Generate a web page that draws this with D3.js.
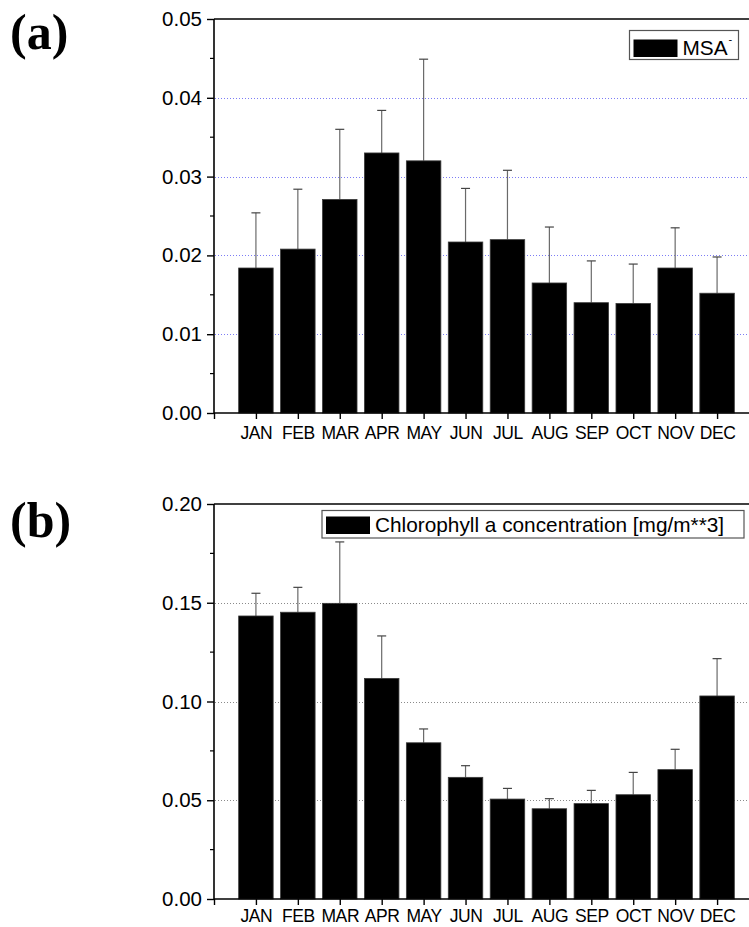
<!DOCTYPE html>
<html>
<head>
<meta charset="utf-8">
<script src="https://cdn.jsdelivr.net/npm/d3@7/dist/d3.min.js"></script>
<style>
  html, body { margin: 0; padding: 0; background: #fff; }
  svg { display: block; }
  text { font-family: "Liberation Sans", Arial, sans-serif; fill: #000; }
</style>
</head>
<body>
<svg id="chart" width="749" height="927"></svg>
<script>
// Monthly climatology: MSA⁻ concentration and chlorophyll a concentration
const months = ["JAN","FEB","MAR","APR","MAY","JUN","JUL","AUG","SEP","OCT","NOV","DEC"];

const msaMean = [0.0184, 0.0208, 0.0271, 0.0330, 0.0320, 0.0217, 0.0220, 0.0165, 0.0140, 0.0139, 0.0184, 0.0152];
const msaSd   = [0.0070, 0.0076, 0.0089, 0.0054, 0.0129, 0.0068, 0.0088, 0.0071, 0.0053, 0.0050, 0.0051, 0.0046];

const chlMean = [0.1433, 0.1452, 0.1497, 0.1117, 0.0791, 0.0616, 0.0506, 0.0457, 0.0483, 0.0528, 0.0655, 0.1028];
const chlSd   = [0.0115, 0.0126, 0.0311, 0.0215, 0.0070, 0.0059, 0.0054, 0.0051, 0.0067, 0.0113, 0.0103, 0.0189];

const msaTicks = [0.00, 0.01, 0.02, 0.03, 0.04, 0.05];
const chlTicks = [0.00, 0.05, 0.10, 0.15, 0.20];

const svg = d3.select("#chart");

function drawPanel(opts) {
  const g = svg.append("g");
  const W = 749;
  const x = d3.scaleLinear().domain([0, 13]).range([214, 759]);
  const y = d3.scaleLinear().domain([0, opts.yMax]).range([opts.y0, opts.y1]);
  const barW = 34.5;

  // panel tag
  g.append("text")
    .attr("x", 10).attr("y", opts.tagY)
    .style("font-family", "'Liberation Serif', 'Times New Roman', serif")
    .style("font-weight", "bold").style("font-size", "50px")
    .text(opts.tag);

  // dotted grid lines
  g.selectAll("line.grid").data(opts.grid).enter().append("line")
    .attr("x1", x(0) + 1).attr("x2", W)
    .attr("y1", d => Math.round(y(d)) + 0.5).attr("y2", d => Math.round(y(d)) + 0.5)
    .attr("stroke", opts.gridColor).attr("stroke-width", 1)
    .attr("stroke-dasharray", "1,2");

  const idx = d3.range(opts.mean.length);

  // error bars (upper half only)
  const eb = g.selectAll("g.err").data(idx).enter().append("g");
  eb.append("line")
    .attr("x1", i => x(i + 1)).attr("x2", i => x(i + 1))
    .attr("y1", i => y(opts.mean[i])).attr("y2", i => y(opts.mean[i] + opts.sd[i]))
    .attr("stroke", "#6a6a6a").attr("stroke-width", 1.2);
  eb.append("line")
    .attr("x1", i => x(i + 1) - 4.5).attr("x2", i => x(i + 1) + 4.5)
    .attr("y1", i => y(opts.mean[i] + opts.sd[i])).attr("y2", i => y(opts.mean[i] + opts.sd[i]))
    .attr("stroke", "#444").attr("stroke-width", 1.2);

  // bars
  g.selectAll("rect.bar").data(idx).enter().append("rect")
    .attr("x", i => x(i + 1) - barW / 2)
    .attr("width", barW)
    .attr("y", i => y(opts.mean[i]))
    .attr("height", i => y(0) - y(opts.mean[i]))
    .attr("fill", "#000").attr("stroke", "#3a3a3a").attr("stroke-width", 0.8);

  // frame: top line
  g.append("line")
    .attr("x1", x(0)).attr("x2", W).attr("y1", y(opts.yMax)).attr("y2", y(opts.yMax))
    .attr("stroke", "#000").attr("stroke-width", 1.6);

  // left axis
  const yAxis = d3.axisLeft(y).tickValues(opts.ticks).tickSize(7).tickPadding(5)
    .tickFormat(d3.format(".2f"));
  const ya = g.append("g").attr("transform", `translate(${x(0)},0)`).call(yAxis);
  ya.select(".domain").attr("stroke-width", 1.6).attr("d", `M0,${y(0)}V${y(opts.yMax)}`);
  ya.selectAll(".tick line").attr("stroke-width", 1.4);
  ya.selectAll(".tick text").style("font-size", "20.5px")
    .style("font-family", "'Liberation Sans', Arial, sans-serif").attr("fill", "#000");

  // minor ticks
  g.selectAll("line.minor").data(opts.minor).enter().append("line")
    .attr("x1", x(0) - 4).attr("x2", x(0))
    .attr("y1", d => y(d)).attr("y2", d => y(d))
    .attr("stroke", "#000").attr("stroke-width", 1.2);

  // bottom axis
  const xAxis = d3.axisBottom(x).tickValues(d3.range(0, 13)).tickSize(6).tickPadding(7)
    .tickFormat(d => d === 0 ? "" : months[d - 1]);
  const xa = g.append("g").attr("transform", `translate(0,${y(0)})`).call(xAxis);
  xa.select(".domain").attr("stroke-width", 1.6).attr("d", `M${x(0)},0H${W}`);
  xa.selectAll(".tick line").attr("stroke-width", 1.4);
  xa.selectAll(".tick text").style("font-size", "17.5px")
    .style("letter-spacing", "-0.4px")
    .style("font-family", "'Liberation Sans', Arial, sans-serif").attr("fill", "#000")
    .attr("dy", null).attr("y", opts.labelBase - y(0));

  // legend
  const L = opts.legend;
  g.append("rect").attr("x", L.x).attr("y", L.y).attr("width", L.w).attr("height", L.h)
    .attr("fill", "#fff").attr("stroke", "#555").attr("stroke-width", 1.2);
  g.append("rect").attr("x", L.x + 4).attr("y", L.y + L.sy).attr("width", 44).attr("height", 17.5)
    .attr("fill", "#000");
  const t = g.append("text").attr("x", L.x + 53).attr("y", L.y + L.by)
    .style("font-size", "20.8px").text(L.text);
  if (L.sup) {
    t.append("tspan").attr("dy", -12).attr("dx", 1).style("font-size", "11px").text(L.sup);
  }
}

drawPanel({
  tag: "(a)", tagY: 49,
  y0: 413, y1: 19, yMax: 0.05,
  mean: msaMean, sd: msaSd,
  ticks: msaTicks, grid: [0.01, 0.02, 0.03, 0.04],
  minor: [0.005, 0.015, 0.025, 0.035, 0.045],
  gridColor: "#7c7cf5",
  labelBase: 439,
  legend: { x: 629.5, y: 30.5, w: 109, h: 29, sy: 9, by: 24, text: "MSA", sup: "-" }
});

drawPanel({
  tag: "(b)", tagY: 537,
  y0: 899, y1: 504, yMax: 0.20,
  mean: chlMean, sd: chlSd,
  ticks: chlTicks, grid: [0.05, 0.10, 0.15],
  minor: [0.025, 0.075, 0.125, 0.175],
  gridColor: "#8a8a8a",
  labelBase: 922,
  legend: { x: 322, y: 510.5, w: 422, h: 27.5, sy: 6, by: 21.5, text: "Chlorophyll a concentration [mg/m**3]" }
});
</script>
</body>
</html>
